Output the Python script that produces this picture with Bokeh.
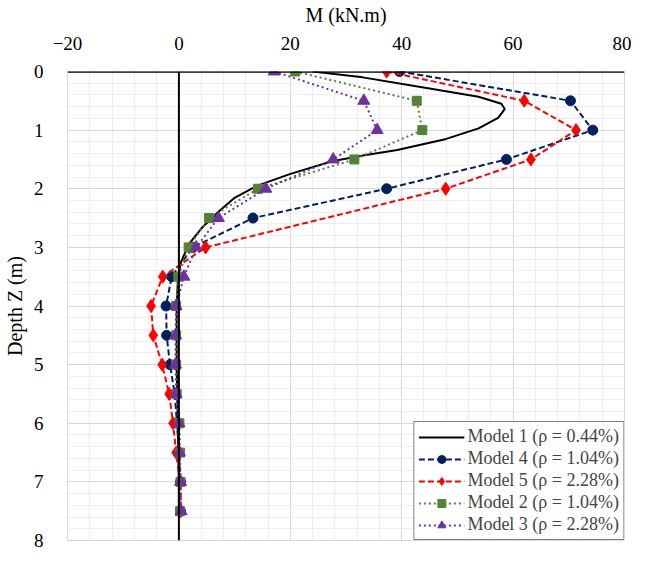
from bokeh.plotting import figure
from bokeh.models import Range1d, SingleIntervalTicker, Span, Legend, LegendItem
from bokeh.embed import file_html
from bokeh.resources import INLINE

# ---- data ----
depth = [0, 0.5, 1, 1.5, 2, 2.5, 3, 3.5, 4, 4.5, 5, 5.5, 6, 6.5, 7, 7.5]
depth5 = [0, 0.5, 1, 1.5, 2, 3, 3.5, 4, 4.5, 5, 5.5, 6, 6.5, 7, 7.5]

m1_z = [0, 0.1, 0.29, 0.43, 0.55, 0.64, 0.79, 0.97, 1.15, 1.34, 1.43, 1.53, 1.75,
        1.95, 2.16, 2.4, 2.67, 2.95, 3.27, 3.6, 4, 5, 6, 7, 7.5]
m1_m = [24, 33, 45, 53.8, 57.9, 58.5, 57.3, 53.8, 48, 39.2, 33.3, 27.5, 19.9,
        14, 9.9, 7, 4.1, 1.75, 0.3, -0.2, -0.4, -0.4, -0.2, 0, 0]

m4 = [39.6, 70.3, 74.3, 58.8, 37.3, 13.3, 2.5, -1.3, -2.3, -2.2, -1.6, -0.75, -0.35, 0, 0.3, 0.3]
m5 = [37.3, 62.0, 71.3, 63.2, 47.9, 4.8, -2.9, -5.0, -4.6, -3.0, -1.75, -1.05, -0.5, 0.2, 0.3]
m2 = [20.9, 42.7, 43.7, 31.5, 14.2, 5.4, 1.75, -0.1, -0.5, -0.5, -0.5, -0.4, 0.1, 0.2, 0.3, 0.2]
m3 = [17.1, 33.2, 35.6, 27.7, 15.6, 7.1, 3.1, 0.9, -0.5, -0.6, -0.6, -0.5, 0, 0.1, 0.3, 0.4]

labels = ["Model 1 (\u03c1 = 0.44%)", "Model 4 (\u03c1 = 1.04%)", "Model 5 (\u03c1 = 2.28%)",
          "Model 2 (\u03c1 = 1.04%)", "Model 3 (\u03c1 = 2.28%)"]

FONT = "Liberation Serif"
NAVY = "#002060"
RED = "#ff0000"
GREEN = "#548235"
PURPLE = "#7030a0"

p = figure(width=631, height=552, x_range=Range1d(-20, 80), y_range=Range1d(8, 0),
           x_axis_location="above", output_backend="svg", toolbar_location=None,
           min_border_left=59, min_border_right=7, min_border_top=2, min_border_bottom=12)

xt = SingleIntervalTicker(interval=20, num_minor_ticks=5)
yt = SingleIntervalTicker(interval=1, num_minor_ticks=5)
p.xaxis.ticker = xt
p.yaxis.ticker = yt
p.xgrid.ticker = xt
p.ygrid.ticker = yt

for g in (p.xgrid, p.ygrid):
    g.grid_line_color = "#d9d9d9"
    g.grid_line_width = 1
    g.minor_grid_line_color = "#eeeeee"
    g.minor_grid_line_width = 1

p.outline_line_color = "#d9d9d9"
p.background_fill_color = "white"

for ax in (p.xaxis, p.yaxis):
    ax.axis_line_color = None
    ax.major_tick_line_color = None
    ax.minor_tick_line_color = None
    ax.major_label_text_font = FONT
    ax.major_label_text_font_size = "19px"
    ax.major_label_text_color = "#000000"
    ax.axis_label_text_font = FONT
    ax.axis_label_text_font_size = "20px"
    ax.axis_label_text_font_style = "normal"
    ax.axis_label_text_color = "#000000"

p.xaxis.axis_label = "M (kN.m)"
p.yaxis.axis_label = "Depth Z (m)"
p.xaxis.major_label_standoff = 16
p.xaxis.axis_label_standoff = 8
p.yaxis.major_label_standoff = 18
p.yaxis.axis_label_standoff = 5

p.add_layout(Span(location=0, dimension="height", line_color="black", line_width=2))
p.add_layout(Span(location=0, dimension="width", line_color="black", line_width=2.5))

r1 = p.line(m1_m, m1_z, line_color="black", line_width=2)

r4l = p.line(m4, depth, line_color=NAVY, line_width=2, line_dash="6 3")
r4s = p.scatter(m4, depth, marker="circle", size=10, color=NAVY)

r5l = p.line(m5, depth5, line_color=RED, line_width=2, line_dash="6 3")
r5s = p.scatter(m5, depth5, marker="diamond", size=13, color=RED)

r2l = p.line(m2, depth, line_color=GREEN, line_width=2, line_dash="2 3")
r2s = p.scatter(m2, depth, marker="square", size=9, color=GREEN)

r3l = p.line(m3, depth, line_color=PURPLE, line_width=2, line_dash="2 3")
r3s = p.scatter(m3, depth, marker="triangle", size=12, color=PURPLE)

legend = Legend(items=[
    LegendItem(label=labels[0], renderers=[r1]),
    LegendItem(label=labels[1], renderers=[r4l, r4s]),
    LegendItem(label=labels[2], renderers=[r5l, r5s]),
    LegendItem(label=labels[3], renderers=[r2l, r2s]),
    LegendItem(label=labels[4], renderers=[r3l, r3s]),
], location="bottom_right")
legend.border_line_color = "black"
legend.border_line_width = 1
legend.background_fill_color = "white"
legend.background_fill_alpha = 1
legend.label_text_font = FONT
legend.label_text_font_size = "18px"
legend.glyph_width = 46
legend.glyph_height = 20
legend.label_height = 20
legend.label_standoff = 3
legend.padding = 4
legend.spacing = 1
legend.margin = 0
p.add_layout(legend)

open("out.html", "w").write(file_html(p, INLINE))
